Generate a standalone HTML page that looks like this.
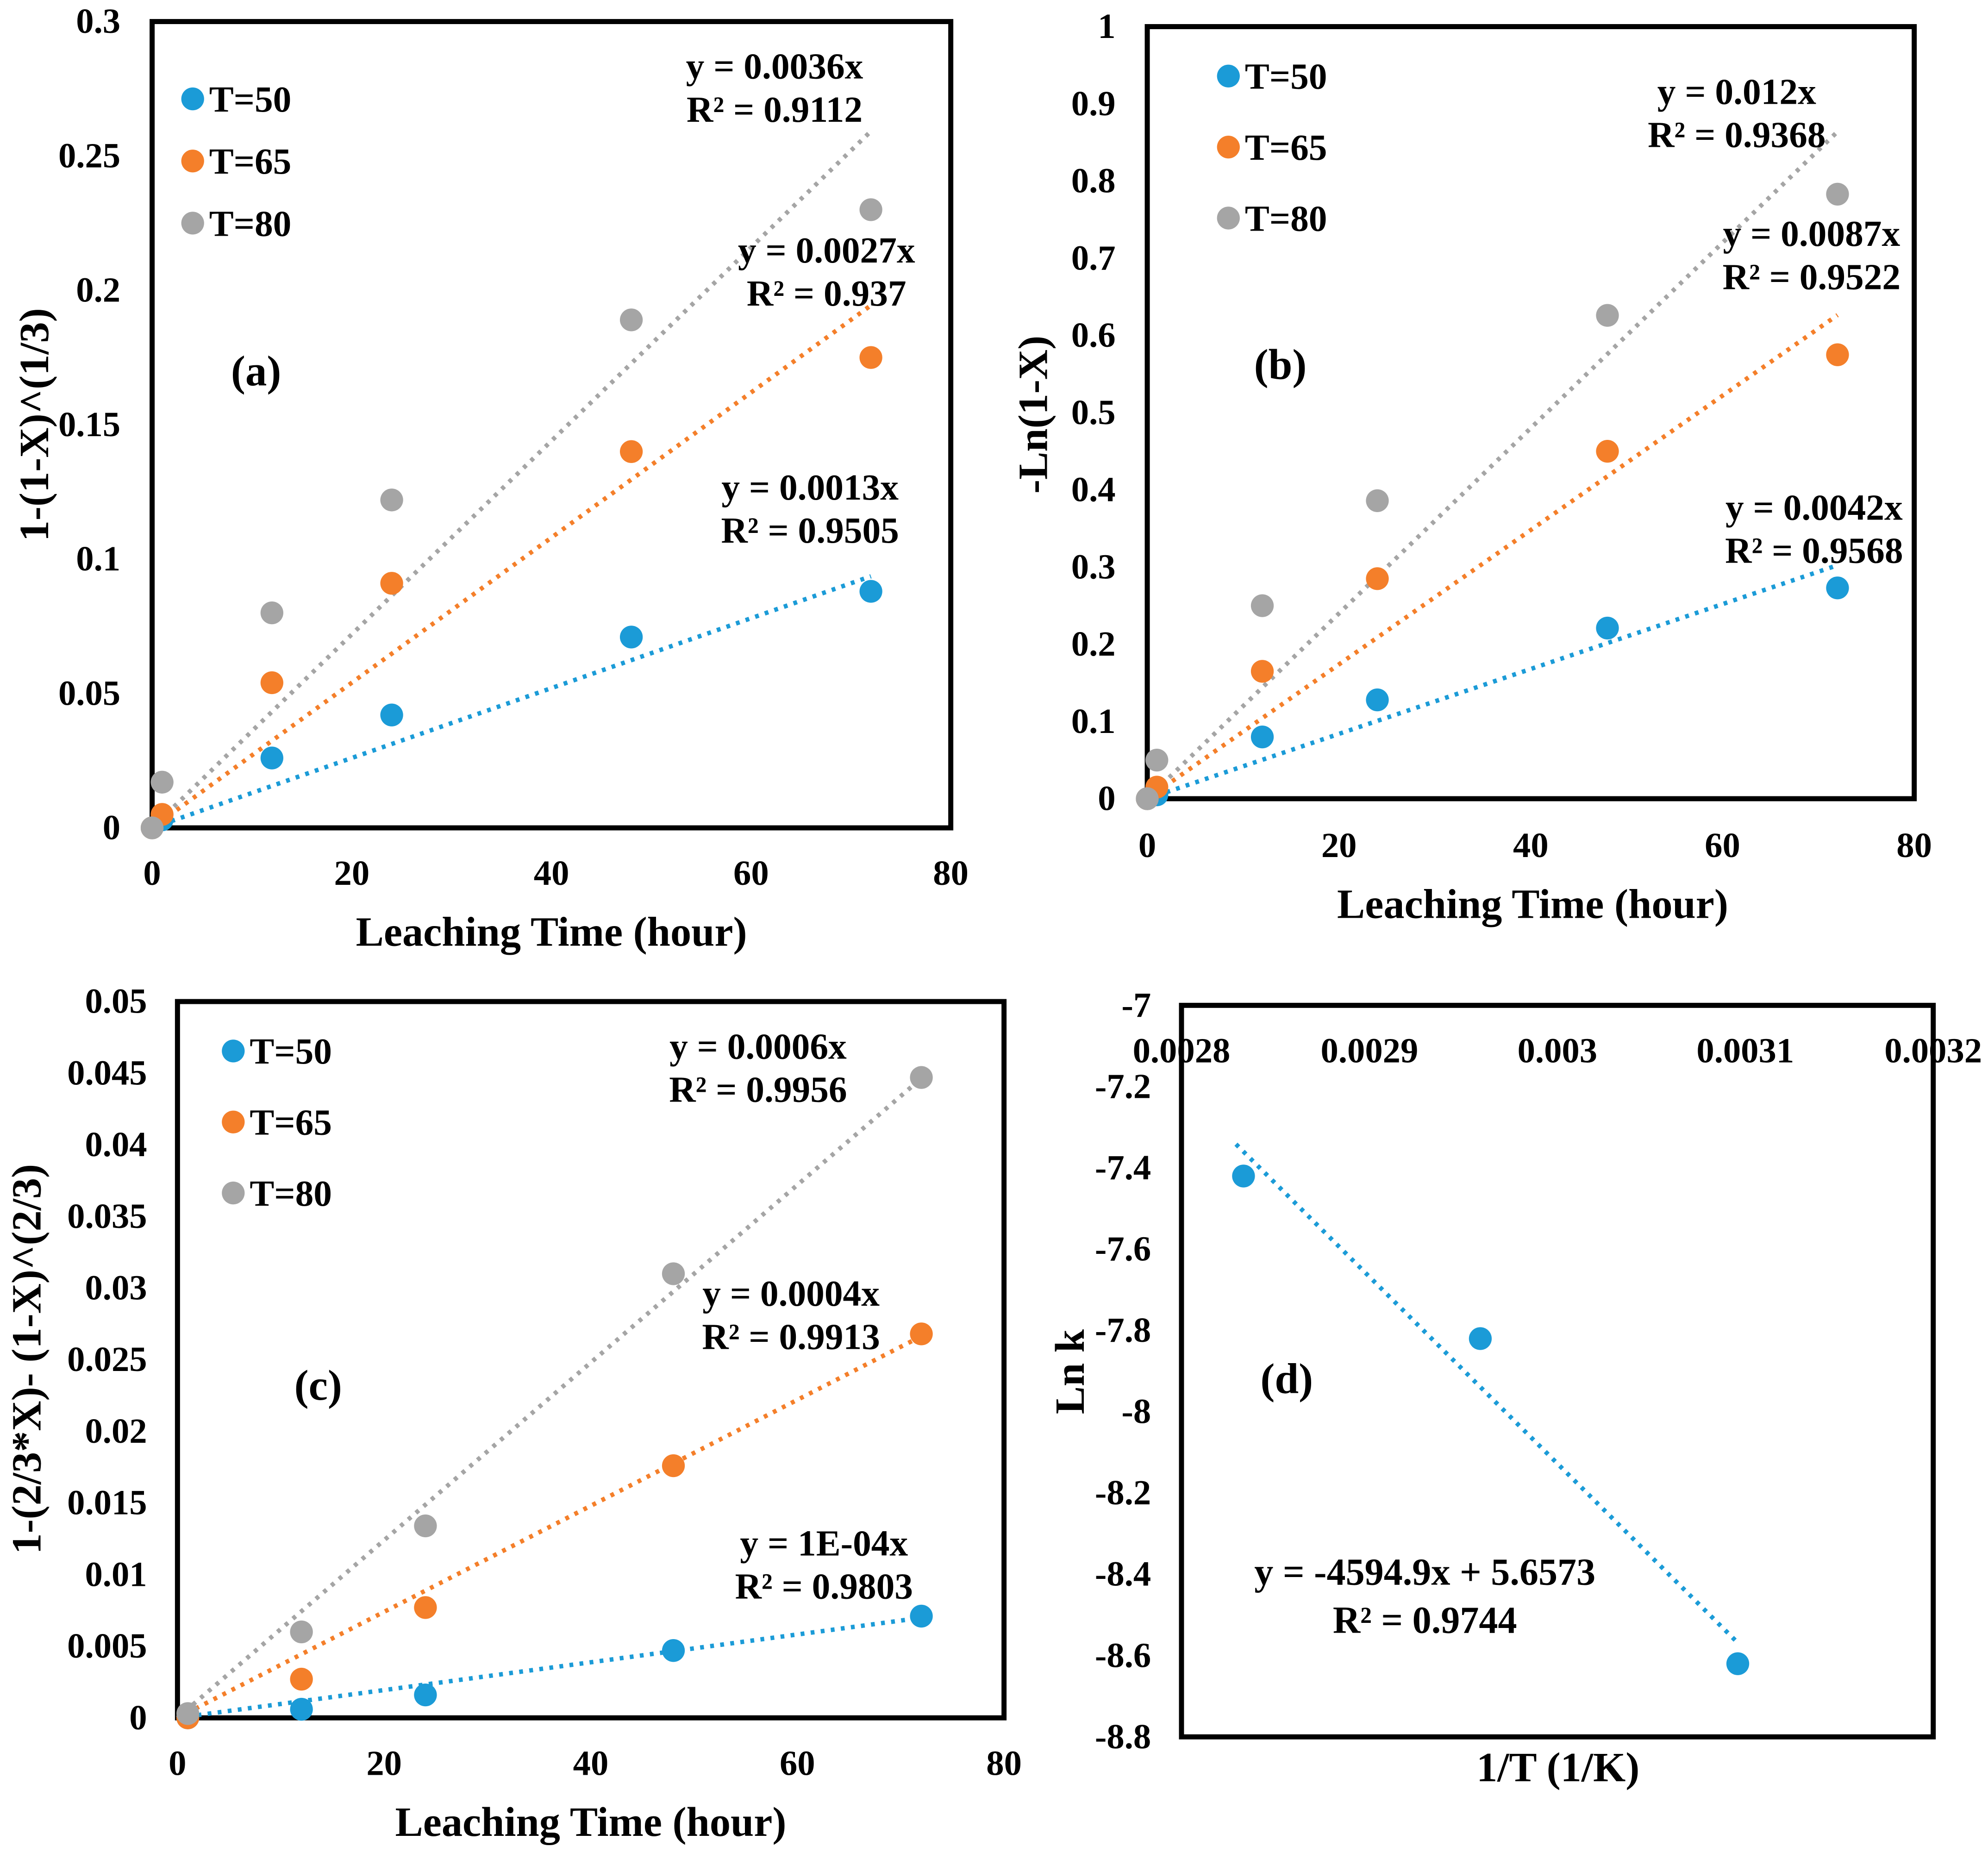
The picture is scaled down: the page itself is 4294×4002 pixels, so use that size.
<!DOCTYPE html>
<html><head><meta charset="utf-8"><style>
html,body{margin:0;padding:0;background:#fff;}
svg{display:block;font-family:"Liberation Serif",serif;font-weight:bold;}
</style></head><body>
<svg id="fig" width="4294" height="4002" viewBox="0 0 1568.2 1461.6" preserveAspectRatio="none" xmlns="http://www.w3.org/2000/svg"></svg>
<script>
// ---- data ----
const timesA = [0, 1, 12, 24, 48, 72];
const a50 = [0, 0.003, 0.026, 0.042, 0.071, 0.088];
const a65 = [0, 0.005, 0.054, 0.091, 0.14, 0.175];
const a80 = [0, 0.017, 0.08, 0.122, 0.189, 0.23];
const slopesA = [0.0013, 0.0027, 0.0036];
const timesB = [0, 1, 12, 24, 48, 72];
const b50 = [0, 0.005, 0.08, 0.128, 0.221, 0.273];
const b65 = [0, 0.015, 0.165, 0.285, 0.45, 0.575];
const b80 = [0, 0.05, 0.25, 0.386, 0.626, 0.783];
const slopesB = [0.0042, 0.0087, 0.012];
const timesC = [1, 12, 24, 48, 72];
const c50 = [0, 0.0006, 0.0016, 0.0047, 0.0071];
const c65 = [0, 0.0027, 0.0077, 0.0176, 0.0268];
const c80 = [0.0003, 0.006, 0.0134, 0.031, 0.0447];
const slopesC = [0.000097, 0.00037, 0.00062];
const invT = [0.002833, 0.002959, 0.003096];
const lnk = [-7.42, -7.82, -8.62];
const fitD = [-4594.9, 5.6573];
const xTicksTime = ["0","20","40","60","80"];
const yTicksA = ["0","0.05","0.1","0.15","0.2","0.25","0.3"];
const yTicksB = ["0","0.1","0.2","0.3","0.4","0.5","0.6","0.7","0.8","0.9","1"];
const yTicksC = ["0","0.005","0.01","0.015","0.02","0.025","0.03","0.035","0.04","0.045","0.05"];
const yTicksD = ["-8.8","-8.6","-8.4","-8.2","-8","-7.8","-7.6","-7.4","-7.2","-7"];
const xTicksD = ["0.0028","0.0029","0.003","0.0031","0.0032"];
const colors = ["#1b9bd7","#f47f2a","#a5a5a5"];
const series = ["T=50","T=65","T=80"];

const svg = document.getElementById('fig');
const NS = "http://www.w3.org/2000/svg";
function el(tag, attrs, parent){const e=document.createElementNS(NS,tag);for(const k in attrs)e.setAttribute(k,attrs[k]);(parent||svg).appendChild(e);return e;}
function txt(s, x, y, size, anchor, parent){const t=el('text',{x:x,y:y,'font-size':size,'text-anchor':anchor||'start'},parent);t.textContent=s;return t;}

function panel(id, box, xmin, xmax, ymin, ymax){
  const g=el('g',{});
  
  
  const sx=v=>box.x0+(v-xmin)/(xmax-xmin)*(box.x1-box.x0);
  const sy=v=>box.y1-(v-ymin)/(ymax-ymin)*(box.y1-box.y0);
  const r=el('rect',{x:box.x0,y:box.y0,width:box.x1-box.x0,height:box.y1-box.y0,fill:'none',stroke:'#000','stroke-width':4},g);
  
  
  return {g,sx,sy};
}
function yTicks(p, labels, min, max, x){
  labels.forEach((l,i)=>{const v=min+(max-min)*i/(labels.length-1);
    const t=txt(l,x,p.sy(v)+9,28,'end',p.g);
    
    });
}
function xTicks(p, labels, min, max, y){
  labels.forEach((l,i)=>{const v=min+(max-min)*i/(labels.length-1);
    const t=txt(l,p.sx(v),y,28,'middle',p.g);
    
    });
}
function trend(p, slope, intercept, x0, x1, color){
  const l=el('line',{x1:p.sx(x0),y1:p.sy(slope*x0+intercept),x2:p.sx(x1),y2:p.sy(slope*x1+intercept),stroke:color,'stroke-width':3.5,'stroke-dasharray':'3 5'},p.g);
  
  
}
function points(p, xs, ys, color, name){
  xs.forEach((x,i)=>{const c=el('circle',{cx:p.sx(x),cy:p.sy(ys[i]),r:9,fill:color},p.g);
    
    });
}
function legend(p, x, y, gap){
  series.forEach((s,i)=>{
    const c=el('circle',{cx:x,cy:y+i*gap,r:9,fill:colors[i]},p.g);
    
    
    const t=txt(s,x+13,y+i*gap+10,29,'start',p.g);
    
    
  });
}
function label(p, s, x, y, size, anchor, name, rot){
  const t=txt(s,x,y,size,anchor||'start',p.g);
  if(rot) t.setAttribute('transform','rotate(-90 '+x+' '+y+')');
  
  
}

// Panel a
const pa=panel('panel-a',{x0:120,x1:750,y0:17,y1:653},0,80,0,0.3);
yTicks(pa,yTicksA,0,0.3,95); xTicks(pa,xTicksTime,0,80,698);
[a50,a65,a80].forEach((d,i)=>{trend(pa,slopesA[i],0,0,72,colors[i]);});
[a50,a65,a80].forEach((d,i)=>{points(pa,timesA,d,colors[i],'a-'+series[i]);});
legend(pa,152,78,49);
label(pa,'(a)',202,304,34,'middle','panel-label-a');
label(pa,'y = 0.0036x',611,62,29,'middle','equation-a80'); label(pa,'R² = 0.9112',611,96,29,'middle','r2-a80');
label(pa,'y = 0.0027x',652,207,29,'middle','equation-a65'); label(pa,'R² = 0.937',652,241,29,'middle','r2-a65');
label(pa,'y = 0.0013x',639,394,29,'middle','equation-a50'); label(pa,'R² = 0.9505',639,428,29,'middle','r2-a50');
label(pa,'Leaching Time (hour)',435,746,33,'middle','x-axis-title-a');
label(pa,'1-(1-X)^(1/3)',38,335,33,'middle','y-axis-title-a',true);

// Panel b
const pb=panel('panel-b',{x0:905,x1:1510,y0:21,y1:630},0,80,0,1);
yTicks(pb,yTicksB,0,1,880); xTicks(pb,xTicksTime,0,80,676);
[b50,b65,b80].forEach((d,i)=>{trend(pb,slopesB[i],0,0,72,colors[i]);});
[b50,b65,b80].forEach((d,i)=>{points(pb,timesB,d,colors[i],'b-'+series[i]);});
legend(pb,969,60,56);
label(pb,'(b)',1010,299,34,'middle','panel-label-b');
label(pb,'y = 0.012x',1370,82,29,'middle','equation-b80'); label(pb,'R² = 0.9368',1370,116,29,'middle','r2-b80');
label(pb,'y = 0.0087x',1429,194,29,'middle','equation-b65'); label(pb,'R² = 0.9522',1429,228,29,'middle','r2-b65');
label(pb,'y = 0.0042x',1431,410,29,'middle','equation-b50'); label(pb,'R² = 0.9568',1431,444,29,'middle','r2-b50');
label(pb,'Leaching Time (hour)',1209,724,33,'middle','x-axis-title-b');
label(pb,'-Ln(1-X)',826,327,33,'middle','y-axis-title-b',true);

// Panel c
const pc=panel('panel-c',{x0:140,x1:792,y0:790,y1:1355},0,80,0,0.05);
yTicks(pc,yTicksC,0,0.05,116); xTicks(pc,xTicksTime,0,80,1400);
[c50,c65,c80].forEach((d,i)=>{trend(pc,slopesC[i],0,0,72,colors[i]);});
[c50,c65,c80].forEach((d,i)=>{points(pc,timesC,d,colors[i],'c-'+series[i]);});
legend(pc,184,829,56);
label(pc,'(c)',251,1104,34,'middle','panel-label-c');
label(pc,'y = 0.0006x',598,835,29,'middle','equation-c80'); label(pc,'R² = 0.9956',598,869,29,'middle','r2-c80');
label(pc,'y = 0.0004x',624,1030,29,'middle','equation-c65'); label(pc,'R² = 0.9913',624,1064,29,'middle','r2-c65');
label(pc,'y = 1E-04x',650,1227,29,'middle','equation-c50'); label(pc,'R² = 0.9803',650,1261,29,'middle','r2-c50');
label(pc,'Leaching Time (hour)',466,1448,33,'middle','x-axis-title-c');
label(pc,'1-(2/3*X)- (1-X)^(2/3)',32,1072,33,'middle','y-axis-title-c',true);

// Panel d
const pd=panel('panel-d',{x0:932,x1:1525,y0:793,y1:1370},0.0028,0.0032,-8.8,-7);
yTicks(pd,yTicksD,-8.8,-7,908);
xTicks(pd,xTicksD,0.0028,0.0032,838);
trend(pd,fitD[0],fitD[1],invT[0]-0.000004,invT[2],colors[0]);
points(pd,invT,lnk,colors[0],'d-lnk');
label(pd,'(d)',1015,1099,34,'middle','panel-label-d');
label(pd,'y = -4594.9x + 5.6573',1124,1250,30,'middle','equation-d');
label(pd,'R² = 0.9744',1124,1288,30,'middle','r2-d');
label(pd,'1/T (1/K)',1229,1405,33,'middle','x-axis-title-d');
label(pd,'Ln k',855,1082,33,'middle','y-axis-title-d',true);
</script>
</body></html>
